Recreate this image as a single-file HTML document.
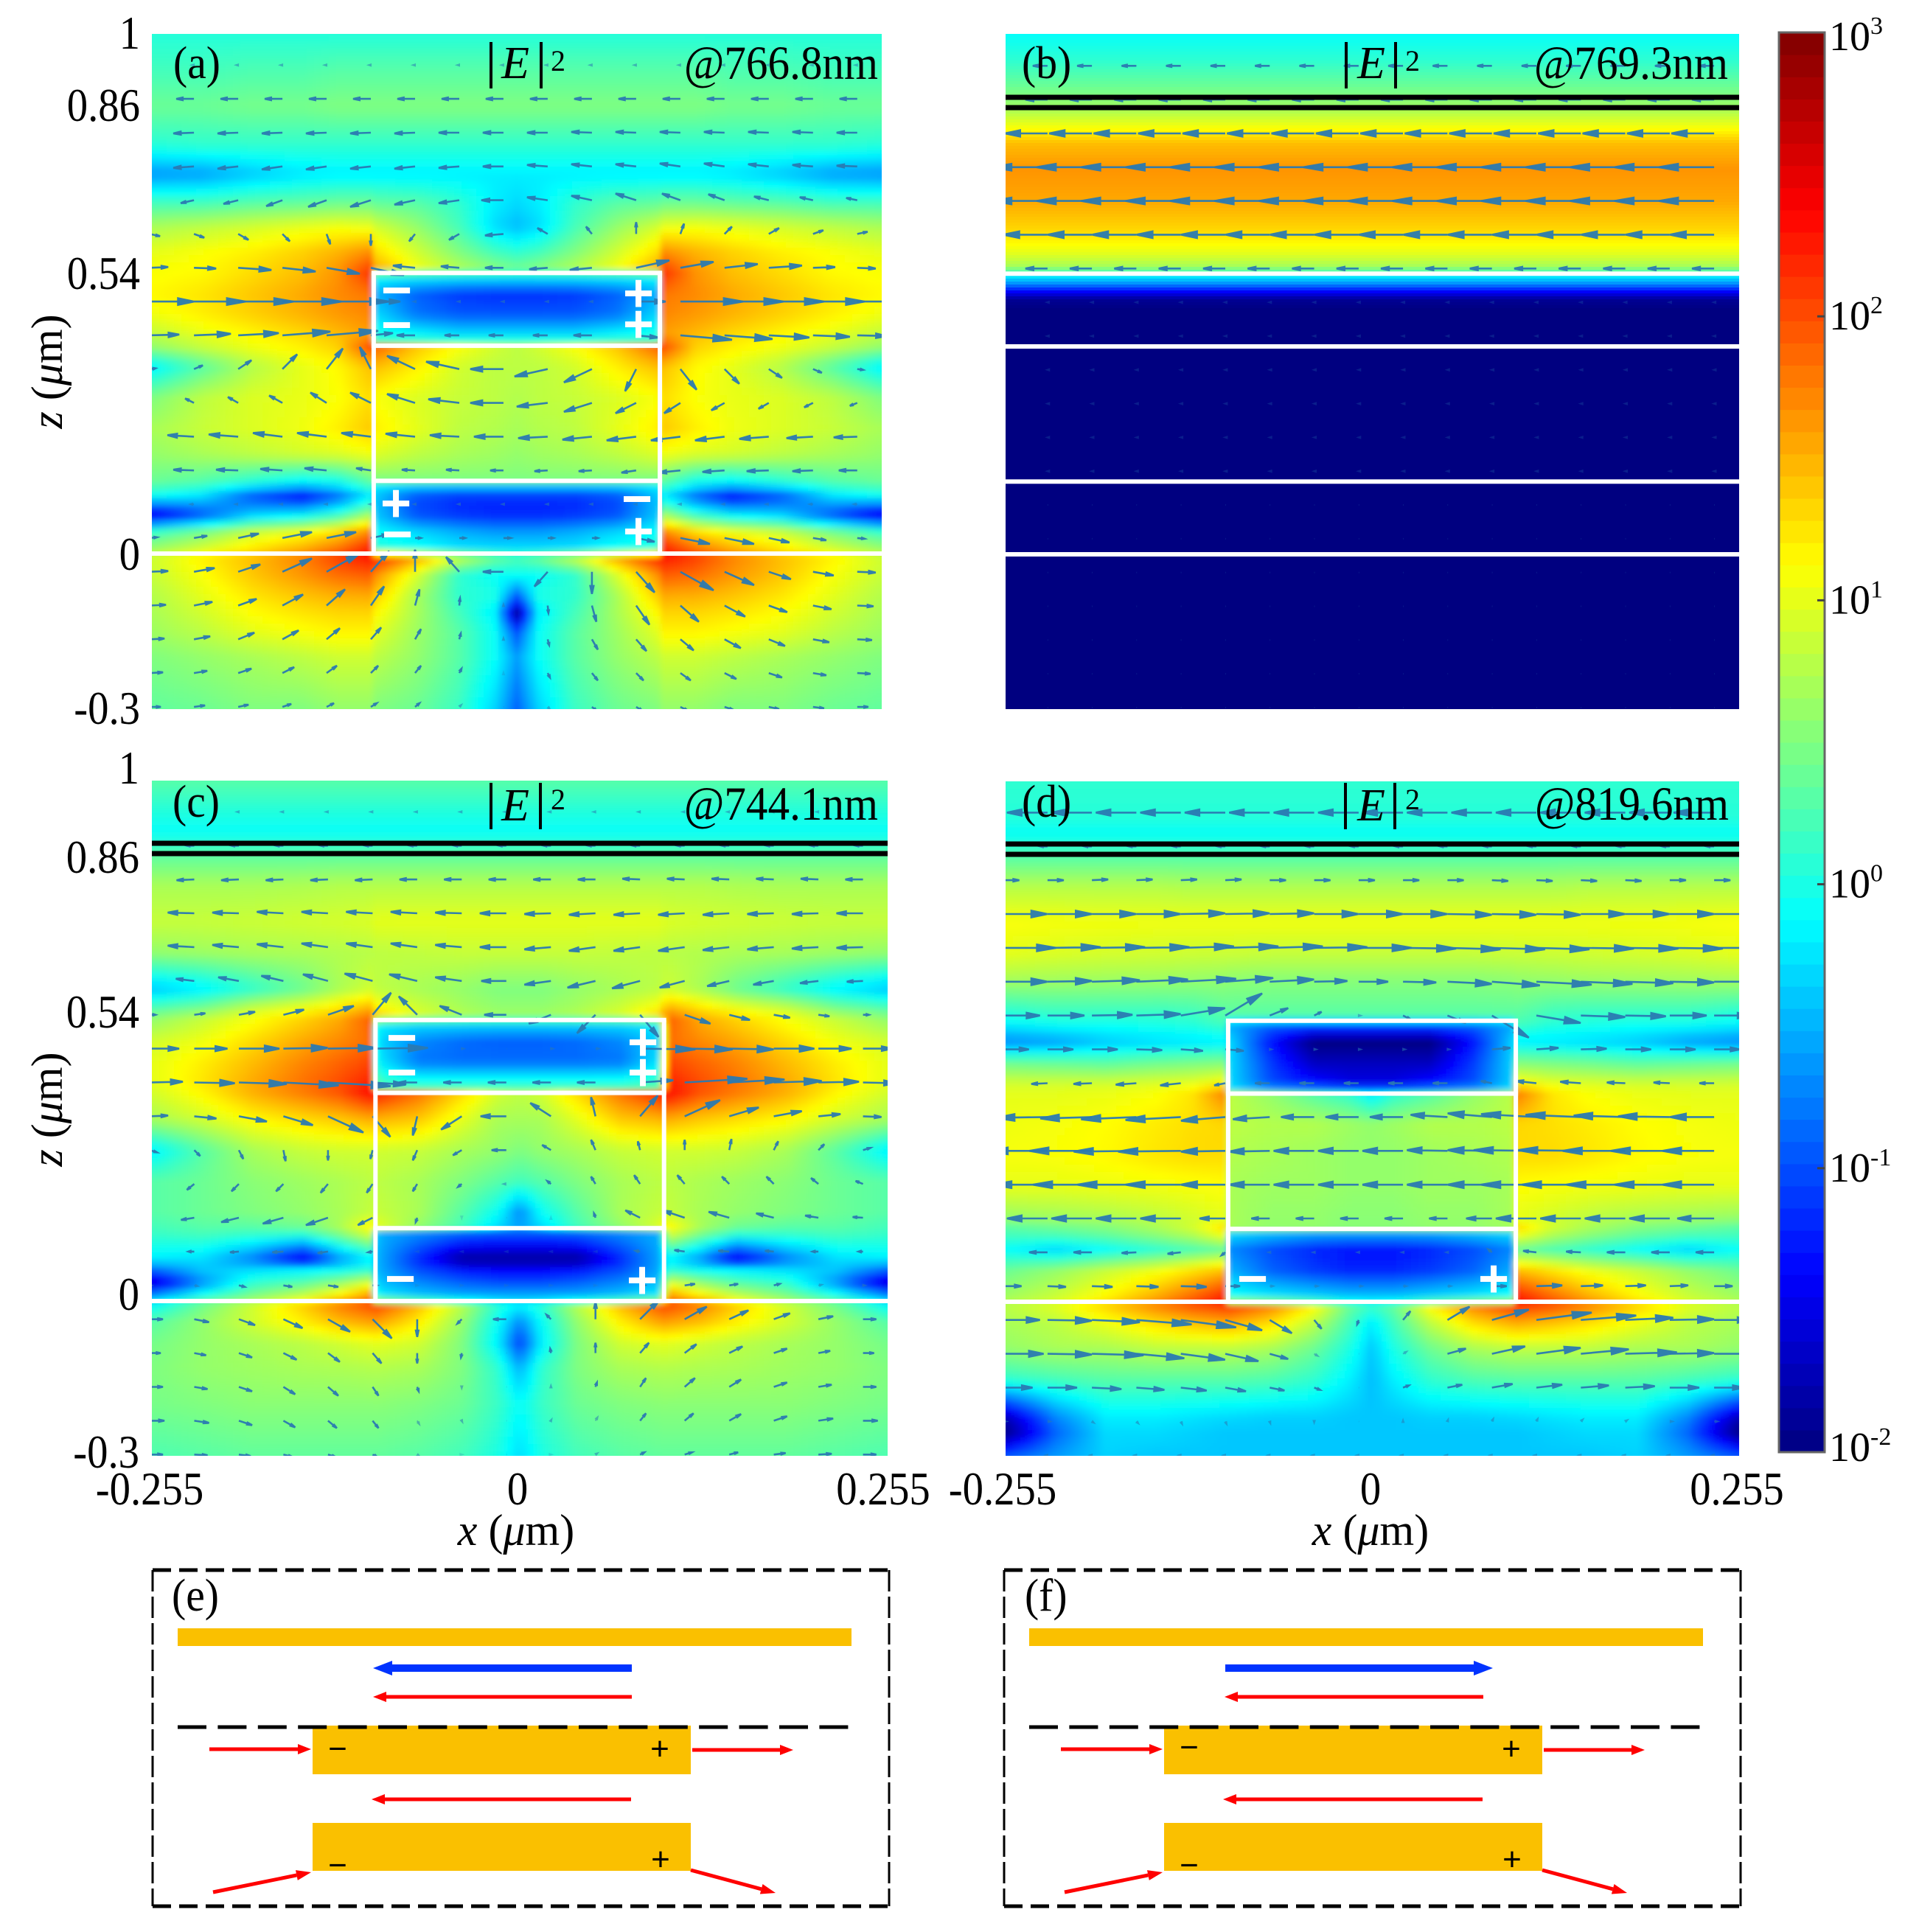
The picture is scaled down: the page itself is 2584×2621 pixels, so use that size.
<!DOCTYPE html>
<html lang="en">
<head>
<meta charset="utf-8">
<title>Electric field intensity maps</title>
<style>
html,body{margin:0;padding:0;background:#fff;}
svg{display:block;}
text{font-family:"Liberation Serif",serif;fill:#000;}
.tick{font-size:63px;transform-box:fill-box;transform-origin:center;transform:scaleX(.9);}
.tick.end{transform-origin:right center;}
.ttl{font-size:60px;}
.panel{font-size:62px;transform-box:fill-box;transform-origin:left center;transform:scaleX(.93);}
.title-e{font-size:62px;}
.wl{font-size:65px;text-anchor:end;transform-box:fill-box;transform-origin:right center;transform:scaleX(.91);}
.sign{font-family:"Liberation Sans",sans-serif;font-weight:700;font-size:72px;fill:#fff;text-anchor:middle;}
.ssign{font-family:"Liberation Sans",sans-serif;font-size:44px;text-anchor:middle;}
.mid{text-anchor:middle;}
.end{text-anchor:end;}
</style>
</head>
<body>
<svg id="chart" xmlns="http://www.w3.org/2000/svg" width="2584" height="2621" viewBox="0 0 2584 2621">
<defs>
<filter id="soft" filterUnits="userSpaceOnUse" x="100" y="0" width="2400" height="2100"><feGaussianBlur stdDeviation="4"/></filter>
<clipPath id="clip-a"><rect x="206" y="46" width="990" height="916"/></clipPath>
<clipPath id="clip-b"><rect x="1364" y="46" width="995" height="916"/></clipPath>
<clipPath id="clip-c"><rect x="206" y="1059" width="998" height="916"/></clipPath>
<clipPath id="clip-d"><rect x="1364" y="1060" width="995" height="915"/></clipPath>
</defs>
<rect width="2584" height="2621" fill="#fff"/>
<g id="layer-fields"></g>
<g id="layer-quiver"></g>
<g id="layer-structure"></g>
<g id="layer-colorbar"></g>

<g>
<text class="sign" x="538" y="418">−</text>
<text class="sign" x="538" y="465">−</text>
<text class="sign" x="866" y="422">+</text>
<text class="sign" x="866" y="464">+</text>
<text class="sign" x="537" y="707">+</text>
<text class="sign" x="539" y="749">−</text>
<text class="sign" x="864" y="701">−</text>
<text class="sign" x="866" y="745">+</text>
<text class="sign" x="545" y="1432">−</text>
<text class="sign" x="545" y="1479">−</text>
<text class="sign" x="872" y="1438">+</text>
<text class="sign" x="872" y="1479">+</text>
<text class="sign" x="543" y="1759">−</text>
<text class="sign" x="871" y="1761">+</text>
<text class="sign" x="1699" y="1759">−</text>
<text class="sign" x="2026" y="1759">+</text>
</g>

<g>
<text class="panel" x="235" y="106">(a)</text>
<text class="title-e mid" x="699" y="106"><tspan font-style="italic">E</tspan></text>
<rect x="664" y="57" width="4" height="63" fill="#000"/>
<rect x="732" y="57" width="4" height="63" fill="#000"/>
<text x="747" y="96" font-size="40">2</text>
<text class="wl" x="1191" y="107">@766.8nm</text>
</g>
<g>
<text class="panel" x="1386" y="106">(b)</text>
<text class="title-e mid" x="1860" y="106"><tspan font-style="italic">E</tspan></text>
<rect x="1824" y="57" width="4" height="63" fill="#000"/>
<rect x="1891" y="57" width="4" height="63" fill="#000"/>
<text x="1906" y="96" font-size="40">2</text>
<text class="wl" x="2344" y="107">@769.3nm</text>
</g>
<g>
<text class="panel" x="234" y="1108">(c)</text>
<text class="title-e mid" x="699" y="1113"><tspan font-style="italic">E</tspan></text>
<rect x="664" y="1062" width="4" height="63" fill="#000"/>
<rect x="731" y="1062" width="4" height="63" fill="#000"/>
<text x="747" y="1098" font-size="40">2</text>
<text class="wl" x="1191" y="1112">@744.1nm</text>
</g>
<g>
<text class="panel" x="1386" y="1108">(d)</text>
<text class="title-e mid" x="1860" y="1113"><tspan font-style="italic">E</tspan></text>
<rect x="1823" y="1062" width="4" height="63" fill="#000"/>
<rect x="1890" y="1062" width="4" height="63" fill="#000"/>
<text x="1906" y="1098" font-size="40">2</text>
<text class="wl" x="2345" y="1112">@819.6nm</text>
</g>

<g>
<text class="tick end" x="190" y="66">1</text>
<text class="tick end" x="190" y="164">0.86</text>
<text class="tick end" x="190" y="392">0.54</text>
<text class="tick end" x="190" y="773">0</text>
<text class="tick end" x="190" y="982">-0.3</text>
<text class="ttl mid" transform="translate(84,504) rotate(-90)"><tspan font-style="italic">z</tspan> (<tspan font-style="italic">μ</tspan>m)</text>
</g>
<g>
<text class="tick end" x="189" y="1063">1</text>
<text class="tick end" x="189" y="1184">0.86</text>
<text class="tick end" x="189" y="1394">0.54</text>
<text class="tick end" x="189" y="1777">0</text>
<text class="tick end" x="189" y="1991">-0.3</text>
<text class="ttl mid" transform="translate(84,1505) rotate(-90)"><tspan font-style="italic">z</tspan> (<tspan font-style="italic">μ</tspan>m)</text>
</g>
<g>
<text class="tick mid" x="203" y="2041">-0.255</text>
<text class="tick mid" x="702" y="2041">0</text>
<text class="tick mid" x="1198" y="2041">0.255</text>
<text class="ttl mid" x="700" y="2096"><tspan font-style="italic">x</tspan> (<tspan font-style="italic">μ</tspan>m)</text>
</g>
<g>
<text class="tick mid" x="1360" y="2041">-0.255</text>
<text class="tick mid" x="1859" y="2041">0</text>
<text class="tick mid" x="2356" y="2041">0.255</text>
<text class="ttl mid" x="1859" y="2096"><tspan font-style="italic">x</tspan> (<tspan font-style="italic">μ</tspan>m)</text>
</g>

<g id="layer-schematics"></g>
<g>
<text class="panel" x="233" y="2185">(e)</text>
<text class="ssign" x="458" y="2387">−</text>
<text class="ssign" x="895" y="2387">+</text>
<text class="ssign" x="458" y="2545">−</text>
<text class="ssign" x="896" y="2537">+</text>
</g>
<g>
<text class="panel" x="1390" y="2185">(f)</text>
<text class="ssign" x="1613" y="2385">−</text>
<text class="ssign" x="2050" y="2387">+</text>
<text class="ssign" x="1613" y="2545">−</text>
<text class="ssign" x="2051" y="2537">+</text>
</g>
</svg>

<script>
// ---------- Field data: log10 |E|^2 ----------
// Columns are |x| in micrometres; the map is read on the left half and mirrored.
const fieldX = [0.255,0.22,0.185,0.15,0.125,0.101,0.099,0.07,0.04,0.015,0];

const fieldZA = [1,.93,.86,.785,.73,.675,.63,.58,.542,.538,.5,.46,.42,.402,.398,.36,.3,.24,.19,.142,.138,.11,.075,.04,.003,-.003,-.04,-.08,-.115,-.15,-.2,-.3];
const fieldA = [
[.05,.05,.05,.05,.05,.05,.05,.05,.05,.05,.05],
[.2,.2,.25,.25,.3,.3,.3,.3,.3,.3,.3],
[.4,.4,.45,.45,.5,.5,.5,.5,.5,.5,.5],
[.05,.1,.1,.1,.1,.1,.1,.1,.1,.1,.1],
[-.65,-.6,-.4,-.25,-.2,-.2,-.2,-.2,-.2,-.2,-.2],
[.2,.2,.3,.35,.4,.4,.35,.3,.1,-.2,-.3],
[.7,.8,.9,1,1.05,1,.9,.6,.2,-.3,-.45],
[1,1.1,1.2,1.35,1.5,1.7,1.3,.9,.5,.2,.1],
[1.1,1.15,1.3,1.45,1.65,2.15,1.6,1.1,.8,.6,.5],
[1.1,1.15,1.3,1.45,1.65,2.15,-.05,-.05,-.05,-.05,-.05],
[1.15,1.25,1.4,1.55,1.7,1.8,-.5,-.9,-1.1,-1.15,-1.15],
[1.05,1.2,1.35,1.5,1.62,1.72,-.3,-.8,-.95,-.95,-.95],
[.8,1,1.15,1.3,1.45,1.6,0,-.1,-.25,-.25,-.25],
[.6,.85,1.05,1.2,1.35,2.05,.3,.3,.3,.3,.3],
[.6,.85,1.05,1.2,1.35,2.05,1.9,1.4,1.1,.9,.8],
[-.2,.3,.75,1,1.15,1.45,1.45,1.2,.9,.8,.8],
[.5,.8,.95,1.02,1.1,1.3,1.1,.95,.85,.8,.75],
[.7,.85,.95,1.05,1.2,1.4,1.2,1,.8,.75,.7],
[.6,.7,.8,.9,.95,1.05,.95,.8,.7,.65,.6],
[.4,.3,.1,-.1,0,.4,.5,.5,.5,.5,.5],
[.4,.3,.1,-.1,0,.4,-.1,-.1,-.1,-.1,-.1],
[-.1,-.3,-1,-1.4,-.9,-.2,-.4,-1,-1.15,-1.15,-1.15],
[-1.6,-1,-.4,-.2,.1,.7,-.4,-1,-1.15,-1.2,-1.2],
[.2,.5,.9,1.1,1.35,1.8,-.1,-.3,-.5,-.6,-.6],
[.7,1,1.3,1.6,1.9,2.35,.1,0,-.2,-.2,-.2],
[.9,1.2,1.45,1.75,2.1,2.35,2.35,1.7,1,.5,.3],
[.85,1.1,1.4,1.65,1.85,1.95,1.7,.95,.1,-.1,-.05],
[.75,1,1.25,1.42,1.52,1.55,1.4,.7,.1,0,-.9],
[.7,.9,1.12,1.25,1.32,1.33,1.15,.7,.2,-.2,-1.9],
[.65,.8,1,1.1,1.18,1.18,1,.65,.3,-.1,-1],
[.5,.6,.7,.8,.88,.88,.8,.6,.3,-.1,-.6],
[.35,.4,.5,.5,.6,.6,.5,.4,.15,-.35,-.9]
];

const fieldZC = [1,.93,.9,.86,.8,.73,.67,.6,.56,.542,.538,.5,.46,.42,.402,.398,.35,.29,.23,.17,.142,.138,.08,.06,.035,.003,-.003,-.04,-.08,-.13,-.2,-.3];
const fieldC = [
[.3,.3,.3,.3,.3,.3,.3,.3,.3,.3,.3],
[0,0,0,0,0,0,0,0,0,0,0],
[-.1,-.1,-.1,-.1,-.1,-.1,-.1,-.1,-.1,-.1,-.1],
[.3,.3,.3,.3,.3,.3,.3,.3,.3,.3,.3],
[.7,.7,.7,.72,.75,.75,.75,.75,.75,.75,.75],
[.85,.85,.87,.9,.92,.95,1,1,1,1,1],
[.6,.65,.7,.72,.75,.78,.8,.82,.85,.85,.85],
[-.4,-.2,.1,.4,.7,.9,.8,.7,.6,.5,.5],
[.3,.5,.9,1.1,1.3,1.6,1.2,.9,.7,.6,.6],
[.6,.85,1.1,1.35,1.55,1.95,1.5,1,.8,.7,.7],
[.6,.85,1.1,1.35,1.55,1.95,-.15,-.2,-.2,-.2,-.2],
[.9,1.05,1.3,1.55,1.7,1.85,-.3,-.7,-.85,-.9,-.9],
[1,1.2,1.45,1.72,1.88,2.05,-.2,-.8,-.85,-.85,-.85],
[1,1.25,1.55,1.82,2,2.25,.2,0,0,0,0],
[.9,1.15,1.5,1.75,1.95,2.35,.4,.4,.4,.4,.4],
[.9,1.15,1.5,1.75,1.95,2.35,2.2,1.8,1.3,.9,.8],
[.7,.9,1.15,1.3,1.4,1.55,1.5,1.4,1,.7,.7],
[-.2,.3,.7,.85,.9,.9,.9,.85,.7,.6,.5],
[.3,.4,.55,.65,.72,.8,.8,.7,.5,.3,.2],
[.3,.4,.5,.6,.7,.85,.85,.7,.3,-.1,-.7],
[.2,.3,.3,.4,.7,1.2,1,.6,.2,-.3,-.6],
[.2,.3,.3,.4,.7,1.2,-.5,-.6,-.7,-.8,-.8],
[-.2,-.3,-.8,-1.6,-.7,-.2,-.5,-1.2,-1.9,-1.9,-1.9],
[-.9,-.4,-.3,-.2,-.1,.1,-.5,-1,-1.3,-1.4,-1.4],
[-1.7,-.7,.1,.3,.6,1,-.4,-.7,-.9,-1,-1],
[-.4,.2,.6,1,1.4,1.9,-.1,-.3,-.4,-.4,-.4],
[-.2,.4,.9,1.4,1.8,2.1,2.1,1.5,.8,.1,-.1],
[.3,.6,.9,1.2,1.45,1.6,1.6,1.2,.6,-.1,-.7],
[.45,.6,.7,.8,.9,1,1,.9,.5,-.2,-1.1],
[.5,.6,.65,.7,.72,.75,.75,.7,.5,.1,-.5],
[.45,.5,.55,.55,.55,.55,.55,.5,.4,.15,-.1],
[.25,.3,.35,.35,.35,.35,.35,.3,.2,0,-.3]
];

const fieldZD = [1,.93,.9,.86,.8,.73,.67,.62,.55,.542,.538,.5,.46,.42,.402,.398,.34,.28,.22,.16,.142,.138,.1,.06,.003,-.003,-.04,-.09,-.15,-.22,-.25,-.3];
const fieldD = [
[.1,.1,.1,.1,.1,.1,.1,.1,.1,.1,.1],
[.05,.05,.05,.05,.05,.05,.05,.05,.05,.05,.05],
[-.1,-.1,-.1,-.1,-.1,-.1,-.1,-.1,-.1,-.1,-.1],
[.25,.25,.25,.25,.25,.25,.25,.25,.25,.25,.25],
[.75,.75,.75,.75,.72,.72,.72,.72,.72,.72,.72],
[1.1,1.08,1.06,1.05,1.05,1.05,1.05,1.05,1.05,1.05,1.05],
[1,.95,.92,.9,.88,.87,.87,.85,.85,.85,.85],
[.7,.68,.66,.65,.62,.6,.58,.55,.55,.55,.55],
[0,.1,.1,.1,.15,.3,.3,.3,.3,.3,.3],
[-.1,0,0,.05,.1,.25,.3,.3,.3,.3,.3],
[-.1,0,0,.05,.1,.25,-.6,-.8,-.8,-.8,-.8],
[-.7,-.6,-.4,-.3,-.25,-.2,-.3,-1.3,-2,-2,-2],
[.4,.35,.3,.4,.45,.5,-.3,-1.1,-1.7,-1.7,-1.7],
[.9,.9,.9,.95,1,1.15,-.3,-1,-1.3,-1.5,-1.5],
[1,1,1.03,1.1,1.25,1.75,-.2,-.4,-.5,-.6,-.6],
[1,1,1.03,1.1,1.25,1.75,.8,.6,.3,.1,-.2],
[1.05,1.08,1.13,1.22,1.28,1.32,.8,.75,.75,.65,.6],
[1.08,1.1,1.15,1.25,1.3,1.3,.75,.7,.65,.6,.6],
[1,1,1.03,1.05,1.08,1.12,.7,.65,.65,.6,.6],
[.6,.65,.7,.8,.9,1,.7,.6,.6,.55,.55],
[.3,.4,.5,.7,.9,1.3,.7,.6,.6,.55,.55],
[.3,.4,.5,.7,.9,1.3,-.2,-.3,-.4,-.4,-.4],
[-.1,-.3,-.1,.1,.25,.4,-.7,-1,-1.2,-1.3,-1.3],
[.4,.6,.85,1.05,1.25,1.45,-.5,-.9,-1.1,-1.2,-1.2],
[.7,.9,1.2,1.6,1.95,2.35,0,-.1,-.2,-.3,-.3],
[.8,1,1.4,1.8,2.05,2.2,2.2,1.8,1.2,.4,.2],
[.7,.8,1.05,1.3,1.45,1.55,1.55,1.3,.8,.2,-.2],
[.6,.7,.7,.8,.8,.8,.8,.7,.4,0,-.4],
[.1,.2,.3,.3,.3,.3,.3,.25,.1,-.2,-.45],
[-1.7,-.7,-.2,-.2,-.25,-.3,-.3,-.35,-.35,-.4,-.4],
[-2,-.9,-.3,-.3,-.35,-.4,-.4,-.4,-.4,-.4,-.4],
[-.9,-.6,-.35,-.4,-.4,-.4,-.4,-.4,-.4,-.4,-.4]
];

const fieldXB = [0];
const fieldZB = [1,.95,.9,.86,.82,.79,.74,.68,.62,.58,.555,.545,.535,.52,.505,.49,.47,-.3];
const fieldB = [[-.1],[.1],[.4],[.65],[1.1],[1.45],[1.65],[1.55],[1.3],[1],[.7],[.35],[-.2],[-.7],[-1.4],[-1.9],[-2],[-2]];

// ---------- Quiver data (half-field, px-scaled magnitudes), mirrored u:+, w:- ----------
const quiverUA = [
[-3,-3,-3,-3,-3,-3,-3,-3,-3],
[-24,-24,-24,-24,-24,-24,-24,-24,-24],
[-28,-28,-28,-28,-28,-28,-28,-28,-28],
[-28,-28,-28,-28,-28,-28,-28,-28,-28],
[-15,-18,-20,-22,-25,-28,-28,-28,-30],
[14,14,14,10,5,0,-8,-14,-25],
[25,30,45,45,45,45,-30,-25,-25],
[60,70,75,80,85,40,-2,-2,-2],
[40,50,55,65,70,30,-25,-20,-20],
[8,12,18,20,22,-15,-38,-45,-45],
[-10,-12,-14,-18,-22,-28,-38,-42,-45],
[-32,-36,-40,-40,-40,-40,-40,-40,-40],
[-25,-28,-30,-30,-30,-20,-18,-18,-18],
[-5,-5,-4,-3,-2,-2,-2,-2,-2],
[10,18,28,40,40,25,8,8,10],
[25,28,30,40,45,25,0,-18,-28],
[22,25,25,28,25,18,6,1,0],
[20,22,22,22,18,14,8,2,0],
[18,18,18,16,14,10,8,3,0],
[15,15,14,12,10,8,6,3,0]
];
const quiverWA = [
[0,0,0,0,0,0,0,0,0],
[0,0,0,0,0,0,0,0,0],
[0,-1,-1,-1,-1,-1,-1,0,0],
[-1,-2,-3,-4,-4,-3,-3,-2,0],
[-3,-4,-5,-8,-9,-9,-6,-4,0],
[-3,-5,-8,-10,-14,-16,-10,-8,-2],
[1,-1,-3,-5,-8,-10,3,2,0],
[0,0,0,0,0,0,0,0,0],
[1,2,3,5,6,3,0,0,0],
[1,5,12,20,28,30,18,10,0],
[4,6,8,10,14,14,12,5,0],
[1,2,3,5,5,5,4,2,0],
[0,1,1,2,3,3,1,1,0],
[0,0,0,0,0,0,0,0,0],
[1,3,6,8,8,5,0,0,0],
[1,5,10,18,25,28,30,20,0],
[1,5,9,15,22,26,22,10,2],
[1,4,9,12,15,16,14,8,2],
[1,3,6,8,10,10,10,6,1],
[0,2,3,4,5,5,5,3,0]
];

const quiverUB = [-20,-30,-58,-75,-75,-60,-30,-1,-1,-0.6,-0.6,-0.6,-0.6,0,0,0,0,0,0,0];

const quiverUC = [
[-3,-3,-3,-3,-3,-3,-3,-3,-3],
[-10,-10,-10,-10,-10,-10,-10,-10,-10],
[-24,-24,-24,-24,-24,-24,-24,-24,-24],
[-36,-36,-36,-36,-36,-36,-36,-36,-36],
[-36,-36,-36,-36,-36,-36,-36,-36,-36],
[-22,-25,-28,-30,-34,-38,-38,-36,-34],
[8,15,22,28,35,25,-25,-30,-30],
[40,45,55,60,65,75,5,3,0],
[45,55,65,75,85,45,-25,-25,-25],
[25,30,38,40,48,24,-6,-28,-35],
[10,8,6,3,0,-3,-6,-12,-20],
[-10,-10,-10,-10,-10,-8,-6,-5,-4],
[-14,-18,-24,-28,-30,-20,-2,0,0],
[-6,-8,-12,-15,-14,-6,-1,-1,-1],
[3,5,8,12,14,6,1,1,1],
[18,20,22,26,30,26,0,-6,-18],
[15,16,18,18,16,12,0,-1,0],
[18,18,18,16,14,8,2,0,0],
[20,20,18,16,12,8,3,1,0],
[18,18,16,12,10,6,3,1,0]
];
const quiverWC = [
[0,0,0,0,0,0,0,0,0],
[0,0,0,0,0,0,0,0,0],
[0,-1,-1,-1,-1,-1,0,0,0],
[0,1,1,2,2,2,2,1,0],
[1,2,3,4,5,5,5,3,0],
[1,3,5,7,9,10,9,5,0],
[0,2,4,7,12,30,25,12,0],
[0,0,0,1,1,1,0,0,0],
[1,-1,-2,-4,-5,-3,0,0,0],
[1,-3,-7,-12,-22,-28,-26,-18,0],
[-3,-8,-12,-15,-14,-12,-14,-7,0],
[-4,-8,-10,-10,-12,-12,-10,-4,0],
[-1,-3,-6,-8,-10,-10,-6,-1,0],
[0,0,-1,-1,-2,-1,0,0,0],
[0,-1,-2,-2,-2,0,0,0,0],
[0,-4,-8,-12,-17,-26,-24,-6,0],
[0,-3,-6,-9,-12,-14,-14,-6,0],
[0,-3,-6,-10,-12,-12,-6,-2,0],
[0,-3,-6,-9,-10,-10,-5,-2,0],
[0,-1,-2,-3,-3,-3,-2,0,0]
];

const quiverUD = [
[-55,-55,-55,-55,-55,-55,-55,-55,-55],
[-10,-10,-10,-10,-10,-10,-10,-10,-10],
[22,22,22,22,22,22,22,22,22],
[60,60,60,60,60,60,60,60,60],
[72,72,72,72,72,72,72,72,72],
[60,60,65,70,75,65,60,45,40],
[50,50,55,60,60,50,25,10,3],
[35,35,35,35,30,25,3,3,3],
[-20,-22,-25,-28,-28,-15,-20,-20,-20],
[-60,-70,-70,-75,-75,-60,-50,-45,-45],
[-70,-80,-85,-85,-85,-60,-55,-55,-55],
[-70,-75,-80,-80,-75,-60,-55,-55,-55],
[-50,-55,-55,-55,-55,-35,-25,-25,-25],
[-25,-25,-25,-20,-18,-5,-2,-2,-2],
[25,25,28,30,35,20,5,5,5],
[50,60,65,75,75,50,30,10,-2],
[55,60,70,65,60,45,25,5,0],
[40,40,40,38,35,28,20,8,0],
[5,4,3,3,2,2,1,0,0],
[-3,-3,-3,-3,-3,-3,-3,-3,-3]
];
const quiverWD = [
[0,0,0,0,0,0,0,0,0],
[0,0,0,0,0,0,0,0,0],
[0,0,1,1,1,1,0,0,0],
[0,0,0,0,1,1,1,0,0],
[0,1,1,1,2,2,2,1,0],
[0,1,2,3,4,5,3,1,0],
[0,0,1,2,10,30,10,5,0],
[0,0,0,-1,-2,-2,0,0,0],
[0,-1,-1,-2,-3,-3,0,0,0],
[0,-1,-2,-3,-4,-5,-3,0,0],
[0,0,0,-1,-1,-1,-1,0,0],
[0,0,0,0,0,0,0,0,0],
[0,0,0,0,0,0,0,0,0],
[0,0,0,-1,-2,-4,0,0,0],
[0,-1,-1,-1,-1,0,0,0,0],
[0,-1,-3,-6,-10,-14,-18,-12,-6],
[0,-1,-2,-6,-8,-10,-7,-3,0],
[0,0,-2,-3,-4,-5,-4,-3,0],
[0,0,-2,-3,-4,-4,-3,-2,0],
[0,0,0,0,0,0,0,0,0]
];

// ---------- Colorbar data ----------
const colorbarTicks = [-2,-1,0,1,2,3];
const colorbarLevels = 64;

// ---------- Layout ----------
const NS = 'http://www.w3.org/2000/svg';
const panelA = {key:'a', x0:206, x1:1196, yTop:46, yBot:962, cx:701, sx:1941, z0:751, sz:705};
const panelB = {key:'b', x0:1364, x1:2359, yTop:46, yBot:962, cx:1861, sx:1951, z0:752, sz:705};
const panelC = {key:'c', x0:206, x1:1204, yTop:1059, yBot:1975, cx:705, sx:1957, z0:1765, sz:706};
const panelD = {key:'d', x0:1364, x1:2359, yTop:1060, yBot:1975, cx:1861, sx:1951, z0:1766, sz:706};

function clamp01(v){ return Math.max(0, Math.min(1, v)); }
function jet(t){
  const r = clamp01(Math.min(4*t-1.5, -4*t+4.5));
  const g = clamp01(Math.min(4*t-0.5, -4*t+3.5));
  const b = clamp01(Math.min(4*t+0.5, -4*t+2.5));
  return 'rgb(' + Math.round(r*255) + ',' + Math.round(g*255) + ',' + Math.round(b*255) + ')';
}
function colorOf(v){ return jet(clamp01((v+2)/5)); }

function knot(list, v){
  if (v >= list[0]) return [0,0,0];
  for (let i=0;i<list.length-1;i++){
    if (v <= list[i] && v >= list[i+1]){
      return [i, i+1, (list[i]-v)/(list[i]-list[i+1])];
    }
  }
  return [list.length-1, list.length-1, 0];
}
function sample(xs, zs, grid, x, z){
  const zk = knot(zs, z);
  const xk = xs.length > 1 ? knot(xs, Math.abs(x)) : [0,0,0];
  const a = grid[zk[0]][xk[0]]*(1-xk[2]) + grid[zk[0]][xk[1]]*xk[2];
  const b = grid[zk[1]][xk[0]]*(1-xk[2]) + grid[zk[1]][xk[1]]*xk[2];
  return a*(1-zk[2]) + b*zk[2];
}

function drawField(p, xs, zs, grid, cw, ch, soft){
  const outer = document.createElementNS(NS,'g');
  outer.setAttribute('clip-path','url(#clip-'+p.key+')');
  
  
  const inner = document.createElementNS(NS,'g');
  if (soft) inner.setAttribute('filter','url(#soft)');
  outer.appendChild(inner);
  const m = soft ? 20 : 0;
  for (let py=p.yTop-m; py<p.yBot+m; py+=ch){
    for (let px=p.x0-m; px<p.x1+m; px+=cw){
      const x = (px+cw/2-p.cx)/p.sx;
      const z = (p.z0-(py+ch/2))/p.sz;
      const r = document.createElementNS(NS,'rect');
      r.setAttribute('x',px);
      r.setAttribute('y',py);
      r.setAttribute('width',cw+0.6);
      r.setAttribute('height',ch+0.6);
      r.setAttribute('fill',colorOf(sample(xs,zs,grid,x,z)));
      
      
      inner.appendChild(r);
    }
  }
  document.getElementById('layer-fields').appendChild(outer);
}

function arrowPath(x, y, dx, dy){
  const len = Math.hypot(dx,dy);
  if (len < 0.5) return 'M'+x.toFixed(1)+' '+y.toFixed(1)+'h0.8';
  const ux = dx/len, uy = dy/len;
  const hl = Math.max(3, Math.min(26, len*0.36)), hw = Math.max(1, Math.min(4.5, len*0.075));
  const ex = x+dx, ey = y+dy;
  const bx = ex-ux*hl, by = ey-uy*hl;
  return 'M'+x.toFixed(1)+' '+y.toFixed(1)+'L'+ex.toFixed(1)+' '+ey.toFixed(1)+
    'M'+(bx-uy*hw).toFixed(1)+' '+(by+ux*hw).toFixed(1)+'L'+ex.toFixed(1)+' '+ey.toFixed(1)+'L'+(bx+uy*hw).toFixed(1)+' '+(by-ux*hw).toFixed(1)+'Z';
}

function drawQuiver(p, U, W){
  const g = document.createElementNS(NS,'g');
  g.setAttribute('clip-path','url(#clip-'+p.key+')');
  
  
  const rows = 20;
  for (let r=0;r<rows;r++){
    const z = 0.94 - 0.065*r;
    const y = p.z0 - z*p.sz;
    for (let k=0;k<17;k++){
      const i = k<=8 ? k : 16-k;
      const x = p.cx + (-0.2565 + 0.0309*k)*p.sx;
      const u = Array.isArray(U[r]) ? U[r][i] : U[r];
      const w = W ? W[r][i] : 0;
      const dy = k<=8 ? -w : w;
      const mag = Math.hypot(u,dy);
      const a = document.createElementNS(NS,'path');
      a.setAttribute('d',arrowPath(x,y,u,dy));
      a.setAttribute('stroke','#2b7ab2');
      a.setAttribute('stroke-width',mag<6 ? '2' : '2.6');
      a.setAttribute('fill','#2b7ab2');
      a.setAttribute('opacity',mag<1.5 ? '0.25' : mag<6 ? '0.55' : '0.95');
      
      
      g.appendChild(a);
    }
  }
  document.getElementById('layer-quiver').appendChild(g);
}

function shape(tag, attrs, name, parent){
  const el = document.createElementNS(NS,tag);
  for (const key in attrs) el.setAttribute(key, attrs[key]);
  
  
  parent.appendChild(el);
  return el;
}

function drawStructure(p, hasBlock, blackY){
  const g = document.getElementById('layer-structure');
  const W = '#fff';
  const yOf = z => p.z0 - z*p.sz;
  const left = p.cx-0.1*p.sx, right = p.cx+0.1*p.sx;
  shape('rect',{x:p.x0,y:yOf(0)-3,width:p.x1-p.x0,height:6,fill:W},'substrate-line',g);
  if (hasBlock){
    [0.54,0.4,0.14].forEach(z => shape('rect',{x:left-3,y:yOf(z)-3,width:right-left+6,height:6,fill:W},'block-edge',g));
    shape('rect',{x:left-3,y:yOf(0.54),width:6,height:0.54*p.sz,fill:W},'block-side',g);
    shape('rect',{x:right-3,y:yOf(0.54),width:6,height:0.54*p.sz,fill:W},'block-side',g);
  } else {
    [0.54,0.4,0.14].forEach(z => shape('rect',{x:p.x0,y:yOf(z)-3,width:p.x1-p.x0,height:6,fill:W},'layer-edge',g));
  }
  blackY.forEach(y => shape('rect',{x:p.x0,y:y-3.5,width:p.x1-p.x0,height:7,fill:'#000'},'top-film-line',g));
}

function drawColorbar(){
  const g = document.getElementById('layer-colorbar');
  const x=2413, w=62, top=44, bottom=1970;
  const h=(bottom-top)/colorbarLevels;
  for (let i=0;i<colorbarLevels;i++){
    shape('rect',{x:x,y:top+h*(colorbarLevels-1-i),width:w,height:h+0.6,fill:jet((i+0.5)/colorbarLevels)},'colorbar-level',g);
  }
  shape('rect',{x:x,y:top,width:w,height:bottom-top,fill:'none',stroke:'#666','stroke-width':3},'colorbar-frame',g);
  const yOf = e => bottom-(e+2)/5*(bottom-top);
  colorbarTicks.forEach(e => {
    const y = yOf(e);
    if (e>-2 && e<3) shape('rect',{x:x+w-10,y:y-1.5,width:10,height:3,fill:'#444'},'colorbar-tick',g);
    const t = shape('text',{x:2481,y:y+(e===3?24:e===-2?12:18),'font-size':56},'colorbar-tick-label',g);
    t.textContent='10';
    const s = document.createElementNS(NS,'tspan');
    s.setAttribute('dy','-22');
    s.setAttribute('font-size','34');
    s.textContent=String(e);
    t.appendChild(s);
  });
}

function redArrow(g, x1, y1, x2, y2, thick, hl, hw, color, name){
  const dx=x2-x1, dy=y2-y1, len=Math.hypot(dx,dy), ux=dx/len, uy=dy/len;
  const bx=x2-ux*hl, by=y2-uy*hl;
  shape('line',{x1:x1,y1:y1,x2:bx,y2:by,stroke:color,'stroke-width':thick},name+'-shaft',g);
  shape('polygon',{points:x2+','+y2+' '+(bx-uy*hw)+','+(by+ux*hw)+' '+(bx+uy*hw)+','+(by-ux*hw),fill:color},name+'-head',g);
}

function drawSchematic(off, right){
  const g = document.createElementNS(NS,'g');
  
  
  document.getElementById('layer-schematics').appendChild(g);
  const gold='#fac000', red='#ff0000', blue='#0033ff';
  const bx0=207+off, bx1=1206+off, by0=2130, by1=2586;
  shape('line',{x1:bx0,y1:by0,x2:bx1,y2:by0,stroke:'#000','stroke-width':5,'stroke-dasharray':'25 11'},'dashed-frame',g);
  shape('line',{x1:bx0,y1:by1,x2:bx1,y2:by1,stroke:'#000','stroke-width':5,'stroke-dasharray':'25 11'},'dashed-frame',g);
  shape('line',{x1:bx0,y1:by0,x2:bx0,y2:by1,stroke:'#000','stroke-width':3,'stroke-dasharray':'29 7'},'dashed-frame',g);
  shape('line',{x1:bx1,y1:by0,x2:bx1,y2:by1,stroke:'#000','stroke-width':3,'stroke-dasharray':'29 7'},'dashed-frame',g);
  shape('rect',{x:241+off,y:2209,width:914,height:24,fill:gold},'top-film',g);
  shape('rect',{x:424+off,y:2341,width:513,height:66,fill:gold},'upper-block',g);
  shape('rect',{x:424+off,y:2473,width:513,height:65,fill:gold},'lower-block',g);
  shape('line',{x1:241+off,y1:2343,x2:1153+off,y2:2343,stroke:'#000','stroke-width':5,'stroke-dasharray':'39 15.4'},'dashed-divider',g);
  if (right) redArrow(g,507+off,2263,870+off,2263,10,26,10,blue,'blue-current-arrow');
  else redArrow(g,857+off,2263,506+off,2263,10,26,10,blue,'blue-current-arrow');
  redArrow(g,857+off,2302,506+off,2302,5,18,7,red,'red-current-arrow');
  redArrow(g,856+off,2441,504+off,2441,5,18,7,red,'red-current-arrow');
  redArrow(g,284+off,2373,422+off,2373,5,18,7,red,'red-current-arrow');
  redArrow(g,939+off,2374,1076+off,2374,5,18,7,red,'red-current-arrow');
  redArrow(g,289+off,2567,422+off,2540,5,20,7,red,'red-current-arrow');
  redArrow(g,937+off,2537,1052+off,2568,5,20,7,red,'red-current-arrow');
}

drawField(panelA, fieldX, fieldZA, fieldA, 10, 10, true);
drawField(panelB, fieldXB, fieldZB, fieldB, 995, 4, false);
drawField(panelC, fieldX, fieldZC, fieldC, 10, 10, true);
drawField(panelD, fieldX, fieldZD, fieldD, 10, 10, true);

drawQuiver(panelA, quiverUA, quiverWA);
drawQuiver(panelB, quiverUB, null);
drawQuiver(panelC, quiverUC, quiverWC);
drawQuiver(panelD, quiverUD, quiverWD);

drawStructure(panelA, true, []);
drawStructure(panelB, false, [132,146]);
drawStructure(panelC, true, [1144,1158]);
drawStructure(panelD, true, [1145,1159]);

drawColorbar();
drawSchematic(0,false);
drawSchematic(1155,true);
</script>
</body>
</html>
